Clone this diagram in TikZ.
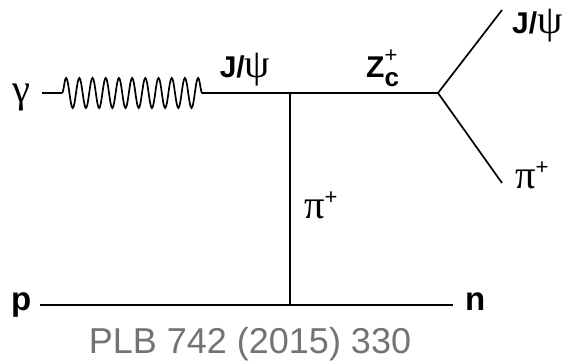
\documentclass[tikz,border=0pt]{standalone}
\usepackage{fontspec}
\setmainfont{Liberation Sans}
\newfontfamily\grk[Scale=1.35]{Liberation Serif}
\usetikzlibrary{decorations.pathmorphing}
\definecolor{refgris}{gray}{0.45}
\newcommand{\gk}[1]{{\grk\mdseries #1}}
\newcommand{\plus}{\raisebox{.45em}{\mdseries\fontsize{22}{22}\selectfont +}}
\newcommand{\zc}{Z\makebox[0pt][l]{\raisebox{.48em}{\mdseries\fontsize{22}{22}\selectfont +}}\raisebox{-.32em}{\fontsize{26}{26}\selectfont c}}
\tikzset{every node/.style={inner sep=0pt},ligne/.style={line width=1.7pt},photon/.style={line width=1.7pt,decorate,decoration={snake,segment length=13.2pt,amplitude=15pt}}}
\tikzset{part/.style={font=\fontsize{30}{31}\selectfont\bfseries},note/.style={font=\fontsize{36}{37}\selectfont,text=refgris}}

\begin{document}
\begin{tikzpicture}[x=1pt,y=-1pt]
\useasboundingbox (0,0) rectangle (577,362);
% sommets : V1 (J/psi - pi), V2 (desintegration du Zc), V3 (p - n)
\coordinate (g0) at (42,93);\coordinate (w0) at (62,93);\coordinate (w1) at (208,93);
\coordinate (V1) at (290,93);\coordinate (V2) at (438,93);\coordinate (V3) at (290,305);
\coordinate (jout) at (502,10);\coordinate (piout) at (502,183);\coordinate (pin) at (40,305);\coordinate (nout) at (453,305);
\draw[ligne] (g0)--(w0);\draw[photon] (w0)--(w1);\draw[ligne] (w1)--(V1)--(V2)--(jout);\draw[ligne] (V2)--(piout);
\draw[ligne] (V1)--(V3);\draw[ligne] (pin)--(nout);
\node[part,anchor=base west] (gam) at (12,102){\gk{γ}};
\node[part,anchor=base] (jpsi) at (245,77){J/\gk{ψ}};
\node[part,anchor=base west] (zcl) at (366,77){\zc};
\node[part,anchor=base west] (jpsi2) at (512,33){J/\gk{ψ}};
\node[part,anchor=base west] (pi2) at (515,188){\gk{π}\plus};
\node[part,anchor=base west] (pi1) at (304,218){\gk{π}\plus};
\node[part,font=\fontsize{33}{34}\selectfont\bfseries,anchor=base west] (prot) at (11,310){p};
\node[part,font=\fontsize{33}{34}\selectfont\bfseries,anchor=base west] (neut) at (465,310){n};
\node[note,anchor=base] (ref) at (250,353){PLB 742 (2015) 330};
\end{tikzpicture}
\end{document}
